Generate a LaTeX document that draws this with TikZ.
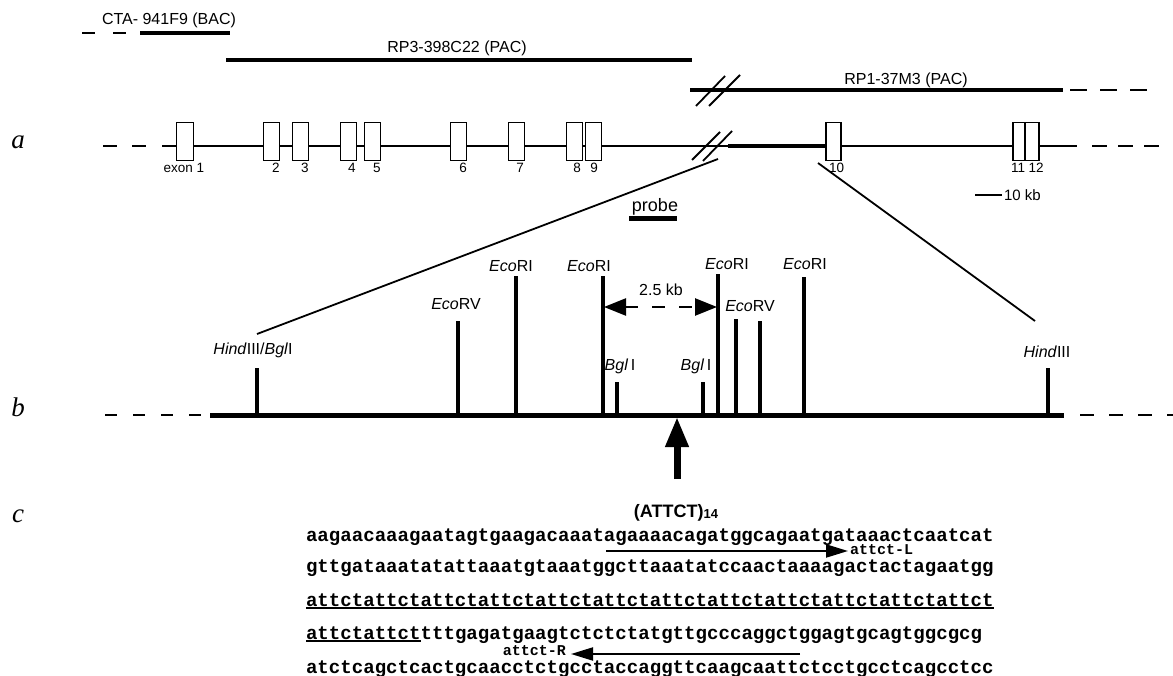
\documentclass[tikz,border=0pt]{standalone}
\usepackage{fontspec}
\setmainfont{Liberation Serif}
\setsansfont{Liberation Sans}
\setmonofont{Liberation Mono}
\usetikzlibrary{arrows.meta}
\begin{document}
\begin{tikzpicture}[x=1pt,y=-1pt,
  every node/.style={inner sep=0pt, outer sep=0pt},
  sf/.style={font=\sffamily\fontsize{16}{16}\selectfont},
  exlbl/.style={font=\sffamily\fontsize{13.5}{13.5}\selectfont, anchor=north},
  enz/.style={font=\sffamily\fontsize{16}{16}\selectfont},
  seq/.style={font=\ttfamily\bfseries\fontsize{19.1}{19.1}\selectfont, anchor=base west},
  small/.style={font=\ttfamily\bfseries\fontsize{15}{15}\selectfont},
  exon/.style={draw, fill=white, line width=1.1pt, minimum height=38pt},
  clone/.style={line width=4pt},
  thinl/.style={line width=1.7pt},
  site/.style={line width=4.5pt},
  diag/.style={line width=1.8pt},
  rowlbl/.style={font=\rmfamily\itshape\fontsize{27}{27}\selectfont}]
\useasboundingbox (0,0) rectangle (1173,676);
% row labels
\node[rowlbl] (la) at (18,142) {a};
\node[rowlbl] (lb) at (18,407) {b};
\node[rowlbl] (lc) at (18,516) {c};
% clones
\node[sf] (cta) at (169,20) {CTA- 941F9 (BAC)};
\draw[thinl, dash pattern=on 13pt off 18pt] (82,33) -- (126,33);
\draw[clone] (140,33) -- (230,33);
\node[sf] (rp3) at (457,48) {RP3-398C22 (PAC)};
\draw[clone] (226,60) -- (692,60);
\node[sf] (rp1) at (906,80) {RP1-37M3 (PAC)};
\draw[clone] (690,90) -- (1063,90);
\draw[thinl, dash pattern=on 17pt off 13pt] (1070,90) -- (1150,90);
\draw[diag] (696,106) -- (725,76);
\draw[diag] (709,106) -- (740,75);
% row a
\draw[thinl, dash pattern=on 14pt off 15pt] (103,146) -- (150,146);
\draw[thinl] (162,146) -- (1077,146);
\draw[clone] (728,146) -- (826,146);
\draw[thinl, dash pattern=on 15pt off 11pt] (1092,146) -- (1166,146);
\draw[diag] (692,160) -- (720,132);
\draw[diag] (703,161) -- (732,131);
\foreach \n/\x/\w in {1/185.2/17,2/271.8/16,3/300.9/16,4/348.5/16,5/372.6/16,6/458.9/16,7/516.7/16,8/574.3/16,9/593.6/15.5,10/833.5/15,11/1019/12,12/1032/14}
  \node[exon, minimum width=\w pt] (e\n) at (\x,141.2) {};
\node[exlbl] (x1) at (184,163) {exon 1};
\foreach \n/\x in {2/276,3/305,4/352,5/377,6/463,7/520,8/577,9/594,10/836.5,11/1018,12/1036}
  \node[exlbl] (x\n) at (\x,163) {\n};
% scale bar
\coordinate (sb1) at (975,195);
\coordinate (sb2) at (1002,195);
\draw[thinl] (sb1) -- (sb2);
\node[font=\sffamily\fontsize{15}{15}\selectfont, anchor=west] (kb) at (1004,195) {10 kb};
% probe
\node[font=\sffamily\fontsize{18}{18}\selectfont] (probe) at (655,207) {probe};
\draw[line width=5pt] (629,219) -- (677,219);
% expansion lines
\coordinate (dl1) at (718,159); \coordinate (dl2) at (257,334);
\coordinate (dr1) at (818,163); \coordinate (dr2) at (1035,321);
\draw[diag] (dl1) -- (dl2);
\draw[diag] (dr1) -- (dr2);
% row b
\draw[thinl, dash pattern=on 12pt off 16pt] (105,415) -- (202,415);
\draw[line width=5pt] (210,415) -- (1064,415);
\draw[thinl, dash pattern=on 14pt off 15pt] (1080,415) -- (1173,415);
\foreach \i/\x/\t in {1/257/368,2/458/321,3/516/276,4/603/276,5/617/382,6/703/382,7/718/274,8/736/319,9/760/321,10/804/277,11/1048/368}{
  \coordinate (st\i) at (\x,\t);
  \coordinate (sb\i) at (\x,414);
  \draw[site] (sb\i) -- (st\i);
}
\node[enz] (hb) at (253,350) {\textit{Hind}III/\textit{Bgl}I};
\node[enz] (ev1) at (456,304) {\textit{Eco}RV};
\node[enz] (er1) at (511,266) {\textit{Eco}RI};
\node[enz] (er2) at (589,266) {\textit{Eco}RI};
\node[enz] (bg1) at (620,366) {\textit{Bgl}\,I};
\node[enz] (bg2) at (696,366) {\textit{Bgl}\,I};
\node[enz] (er3) at (727,264) {\textit{Eco}RI};
\node[enz] (ev2) at (750,306) {\textit{Eco}RV};
\node[enz] (er4) at (805,264) {\textit{Eco}RI};
\node[enz] (hd) at (1047,352) {\textit{Hind}III};
% 2.5 kb
\coordinate (k1) at (604,307); \coordinate (k2) at (717,307);
\draw[line width=2.5pt, dash pattern=on 13pt off 14pt, {Triangle[length=22pt,width=17pt]}-{Triangle[length=22pt,width=17pt]}] (k1) -- (k2);
\node[enz] (kb25) at (661,290) {2.5 kb};
% repeat arrow
\coordinate (up1) at (677,479); \coordinate (up2) at (677,417);
\draw[line width=7pt, -{Triangle[length=30pt,width=22pt]}] (up1) -- (up2);
\node[font=\sffamily\bfseries\fontsize{18}{18}\selectfont] (attct) at (676,513) {(ATTCT)\raisebox{-1pt}{\fontsize{13}{13}\selectfont 14}};
% sequence
\node[seq] (s1) at (306,541) {aagaacaaagaatagtgaagacaaatagaaaacagatggcagaatgataaactcaatcat};
\node[seq] (s2) at (306,572) {gttgataaatatattaaatgtaaatggcttaaatatccaactaaaagactactagaatgg};
\node[seq] (s3) at (306,606) {attctattctattctattctattctattctattctattctattctattctattctattct};
\node[seq] (s4a) at (306,639) {attctattct};
\node[seq] (s4b) at (s4a.base east) {tttgagatgaagtctctctatgttgcccaggctggagtgcagtggcgcg};
\node[seq] (s5) at (306,673) {atctcagctcactgcaacctctgcctaccaggttcaagcaattctcctgcctcagcctcc};
\draw[line width=1.3pt] ([yshift=-2pt]s3.base west) -- ([yshift=-2pt]s3.base east);
\draw[line width=1.3pt] ([yshift=-2pt]s4a.base west) -- ([yshift=-2pt]s4a.base east);
% primers
\coordinate (aL1) at (606,551); \coordinate (aL2) at (848,551);
\draw[line width=2pt, -{Triangle[length=22pt,width=13pt]}] (aL1) -- (aL2);
\node[small, anchor=west] (lL) at (850,550) {attct-L};
\coordinate (aR1) at (800,654); \coordinate (aR2) at (571,654);
\draw[line width=2pt, -{Triangle[length=22pt,width=13pt]}] (aR1) -- (aR2);
\node[small, anchor=east] (lR) at (566,651) {attct-R};
\end{tikzpicture}
\end{document}
